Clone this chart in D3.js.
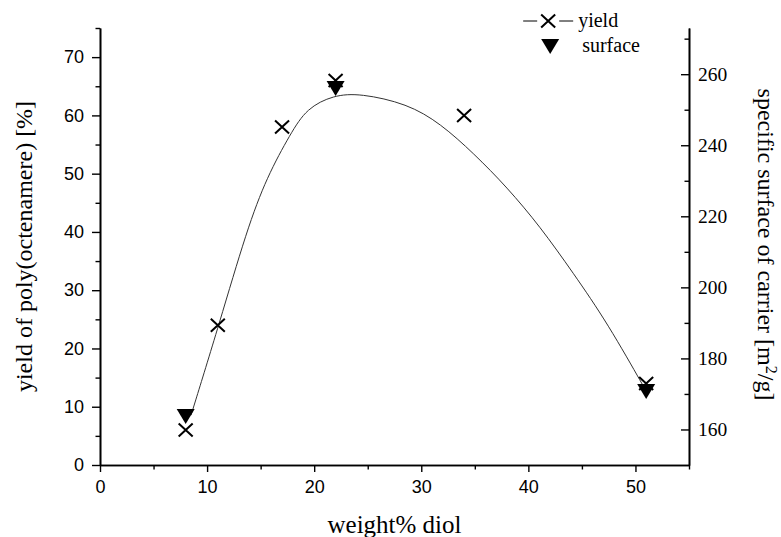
<!DOCTYPE html>
<html>
<head>
<meta charset="utf-8">
<script src="https://cdn.jsdelivr.net/npm/d3@7"></script>
<style>
    body { margin: 0; background: #fff; }
    svg { display: block; }
</style>
</head>
<body>
<div id="chart"></div>
<script>
// data
var diolYield = [8, 11, 17, 22, 34, 51];
var yieldValues = [6, 24, 58, 66, 60, 14];

var diolSurface = [8, 22, 51];
var surfaceValues = [163.8, 256.1, 170.8];

// fitted curve through the surface data (traced points)
var fitX = [8.5, 11.15, 13.7, 15.6, 17.8, 19.3, 21.8, 24.3, 28.7, 31.8, 34.9, 38, 41.1, 44.2, 47.4, 51];
var fitY = [164.0, 189.9, 216.1, 231.2, 243.3, 250.4, 254.1, 254.6, 251.7, 246.1, 237.7, 228.2, 217.1, 204.0, 189.9, 170.8];

var xTicks = [0, 10, 20, 30, 40, 50];
var xMinor = [5, 15, 25, 35, 45, 55];
var yLeftTicks = [0, 10, 20, 30, 40, 50, 60, 70];
var yLeftMinor = [5, 15, 25, 35, 45, 55, 65, 75];
var yRightTicks = [160, 180, 200, 220, 240, 260];
var yRightMinor = [170, 190, 210, 230, 250, 270];

var width_all = 781, height_all = 537;
var margin = { top: 28, right: 92, bottom: 72, left: 100 },
    width = width_all - margin.left - margin.right,
    height = height_all - margin.top - margin.bottom;

var svg = d3.select("#chart")
    .append("svg")
    .attr("width", width_all)
    .attr("height", height_all)
    .append("g")
    .attr("transform", "translate(" + margin.left + "," + margin.top + ")");

// scales
var x = d3.scaleLinear().domain([0, 55]).range([0, width]);
var yL = d3.scaleLinear().domain([0, 75]).range([height, 0]);
var yR = d3.scaleLinear().domain([150, 273]).range([height, 0]);

var sans = "Liberation Sans";
var serif = "Liberation Serif";

// bottom axis
var gx = svg.append("g")
    .attr("transform", "translate(0," + height + ")")
    .call(d3.axisBottom(x).tickValues(xTicks).tickSize(7).tickSizeOuter(0).tickPadding(8));
svg.append("g")
    .attr("transform", "translate(0," + height + ")")
    .call(d3.axisBottom(x).tickValues(xMinor).tickSize(4.5).tickSizeOuter(0).tickFormat(""));

// left axis
var gl = svg.append("g")
    .call(d3.axisLeft(yL).tickValues(yLeftTicks).tickSize(8).tickSizeOuter(0).tickPadding(8));
svg.append("g")
    .call(d3.axisLeft(yL).tickValues(yLeftMinor).tickSize(4.5).tickSizeOuter(0).tickFormat(""));

// right axis, ticks pointing inward
var gr = svg.append("g")
    .attr("transform", "translate(" + width + ",0)")
    .call(d3.axisRight(yR).tickValues(yRightTicks).tickSize(-8).tickSizeOuter(0).tickPadding(9));
svg.append("g")
    .attr("transform", "translate(" + width + ",0)")
    .call(d3.axisRight(yR).tickValues(yRightMinor).tickSize(-4.5).tickSizeOuter(0).tickFormat(""));

svg.selectAll(".domain").attr("stroke", "#000").attr("stroke-width", 1.6);
svg.selectAll(".tick line").attr("stroke", "#000").attr("stroke-width", 1.4);
gx.selectAll("text").attr("font-family", sans).attr("font-size", "18px").attr("fill", "#000");
gl.selectAll("text").attr("font-family", sans).attr("font-size", "18px").attr("fill", "#000");
gr.selectAll("text").attr("font-family", serif).attr("font-size", "19.5px").attr("fill", "#000");

// fitted curve
var line = d3.line()
    .x(function(d) { return x(d[0]); })
    .y(function(d) { return yR(d[1]); })
    .curve(d3.curveBasis);
svg.append("path")
    .datum(d3.zip(fitX, fitY))
    .attr("d", line)
    .attr("fill", "none")
    .attr("stroke", "#333")
    .attr("stroke-width", 1);

// surface triangles
var tri = function(cx, cy) {
    return "M" + (cx - 9) + "," + (cy - 7) + "L" + (cx + 9) + "," + (cy - 7) + "L" + cx + "," + (cy + 8) + "Z";
};
svg.append("g")
    .selectAll("path")
    .data(d3.zip(diolSurface, surfaceValues))
    .enter()
    .append("path")
    .attr("d", function(d) { return tri(x(d[0]), yR(d[1])); })
    .attr("fill", "#000");

// yield crosses
var cross = function(cx, cy) {
    return "M" + (cx - 7) + "," + (cy - 6.5) + "L" + (cx + 7) + "," + (cy + 6.5) +
        "M" + (cx + 7) + "," + (cy - 6.5) + "L" + (cx - 7) + "," + (cy + 6.5);
};
svg.append("g")
    .selectAll("path")
    .data(d3.zip(diolYield, yieldValues))
    .enter()
    .append("path")
    .attr("d", function(d) { return cross(x(d[0]), yL(d[1])); })
    .attr("fill", "none")
    .attr("stroke", "#000")
    .attr("stroke-width", 2);

// axis titles
svg.append("text")
    .attr("text-anchor", "middle")
    .attr("font-family", serif)
    .attr("font-size", "25px")
    .attr("transform", "translate(" + (width / 2) + "," + (height + 68) + ")")
    .text("weight% diol");

svg.append("text")
    .attr("transform", "translate(" + (-68) + "," + (height / 2) + ") rotate(-90)")
    .attr("text-anchor", "middle")
    .attr("font-family", serif)
    .attr("font-size", "24px")
    .text("yield of poly(octenamere) [%]");

var rt = svg.append("text")
    .attr("transform", "translate(" + (width + 69) + "," + (height / 2 - 2) + ") rotate(90)")
    .attr("text-anchor", "middle")
    .attr("font-family", serif)
    .attr("font-size", "24px");
rt.append("tspan").text("specific surface of carrier [m");
rt.append("tspan").attr("baseline-shift", "super").attr("font-size", "16px").text("2");
rt.append("tspan").text("/g]");

// legend
var legend = svg.append("g").attr("transform", "translate(" + (x(41.85)) + "," + (-7) + ")");
legend.append("line").attr("x1", -25).attr("x2", -11).attr("y1", 0).attr("y2", 0)
    .attr("stroke", "#000").attr("stroke-width", 1);
legend.append("line").attr("x1", 11).attr("x2", 25).attr("y1", 0).attr("y2", 0)
    .attr("stroke", "#000").attr("stroke-width", 1);
legend.append("path").attr("d", cross(0, 0)).attr("stroke", "#000").attr("stroke-width", 2);
legend.append("text").attr("x", 30).attr("y", 6).attr("font-family", serif).attr("font-size", "20px").text("yield");
legend.append("path").attr("d", tri(2, 25)).attr("fill", "#000");
legend.append("text").attr("x", 34).attr("y", 31).attr("font-family", serif).attr("font-size", "20px").text("surface");
</script>
</body>
</html>
